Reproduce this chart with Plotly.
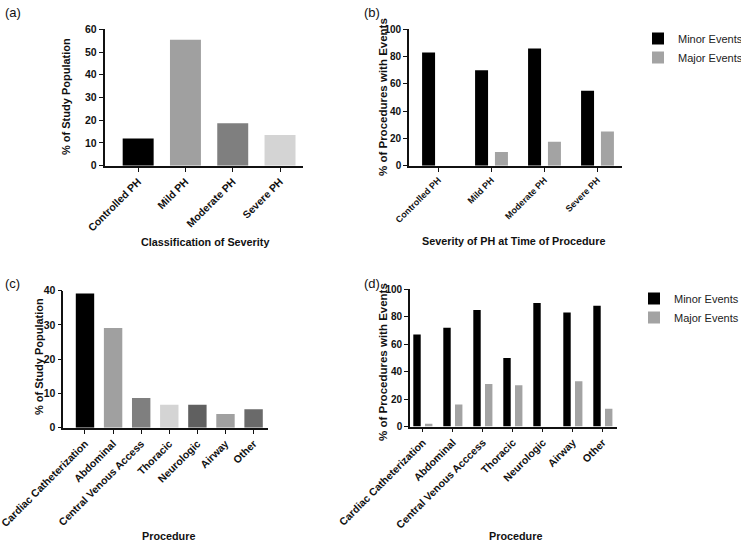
import plotly.graph_objects as go

W, H = 741, 546

# ---------------- data ----------------
sev_categories = ["Controlled PH", "Mild PH", "Moderate PH", "Severe PH"]
sev_population = [12, 55.4, 18.7, 13.5]
sev_colors = ["#000000", "#a0a0a0", "#7f7f7f", "#d4d4d4"]

sev_minor = [83, 70, 86, 55]
sev_major = [0, 10, 17.5, 25]

proc_categories = ["Cardiac Catheterization", "Abdominal", "Central Venous Access",
                   "Thoracic", "Neurologic", "Airway", "Other"]
proc_population = [39.2, 29.1, 8.7, 6.7, 6.7, 4.0, 5.4]
proc_colors = ["#000000", "#a0a0a0", "#7f7f7f", "#d4d4d4", "#606060", "#a0a0a0", "#6a6a6a"]

proc_categories_d = ["Cardiac Catheterization", "Abdominal", "Central Venous Acccess",
                     "Thoracic", "Neurologic", "Airway", "Other"]
proc_minor = [67, 72, 85, 50, 90, 83, 88]
proc_major = [2, 16, 31, 30, 0, 33, 13]

series_names = ["Minor Events", "Major Events"]
series_colors = ["#000000", "#a3a3a3"]

FONT = "Liberation Sans, Arial, sans-serif"
INK = "#111111"


def px_x(p):
    return p / W


def px_y(p):
    return 1 - p / H


fig = go.Figure()

# (a)
fig.add_trace(go.Bar(x=sev_categories, y=sev_population, marker=dict(color=sev_colors, line=dict(width=0)),
                     width=0.655, xaxis="x", yaxis="y", showlegend=False))
# (b)
fig.add_trace(go.Bar(x=sev_categories, y=sev_minor, name=series_names[0],
                     marker=dict(color=series_colors[0], line=dict(width=0)),
                     width=0.245, offset=-0.31, xaxis="x2", yaxis="y2", legend="legend"))
fig.add_trace(go.Bar(x=sev_categories, y=sev_major, name=series_names[1],
                     marker=dict(color=series_colors[1], line=dict(width=0)),
                     width=0.245, offset=0.065, xaxis="x2", yaxis="y2", legend="legend"))
# (c)
fig.add_trace(go.Bar(x=proc_categories, y=proc_population, marker=dict(color=proc_colors, line=dict(width=0)),
                     width=0.655, xaxis="x3", yaxis="y3", showlegend=False))
# (d)
fig.add_trace(go.Bar(x=proc_categories_d, y=proc_minor, name=series_names[0],
                     marker=dict(color=series_colors[0], line=dict(width=0)),
                     width=0.247, offset=-0.317, xaxis="x4", yaxis="y4", legend="legend2"))
fig.add_trace(go.Bar(x=proc_categories_d, y=proc_major, name=series_names[1],
                     marker=dict(color=series_colors[1], line=dict(width=0)),
                     width=0.247, offset=0.073, xaxis="x4", yaxis="y4", legend="legend2"))


def tickfont(size):
    return dict(family=FONT, size=size, color=INK, weight="bold")


def xax(dom, rng, anchor, fsize=10.5):
    return dict(domain=[px_x(dom[0]), px_x(dom[1])], range=rng, anchor=anchor,
                type="category", showline=True, linecolor=INK, linewidth=1.6,
                ticks="outside", ticklen=4, tickwidth=1.4, tickcolor=INK,
                tickangle=-45, tickfont=tickfont(fsize), showgrid=False, zeroline=False,
                fixedrange=True, automargin=False)


def yax(dom, rng, dtick, anchor, fsize=10.5):
    return dict(domain=[px_y(dom[1]), px_y(dom[0])], range=rng, dtick=dtick, anchor=anchor,
                showline=True, linecolor=INK, linewidth=1.6,
                ticks="outside", ticklen=4, tickwidth=1.4, tickcolor=INK,
                tickfont=tickfont(fsize), showgrid=False, zeroline=False, fixedrange=True,
                automargin=False)


layout = dict(
    width=W, height=H,
    margin=dict(l=0, r=0, t=0, b=0, pad=0, autoexpand=False),
    paper_bgcolor="white", plot_bgcolor="white",
    barmode="overlay",
    font=dict(family=FONT, color=INK),
    xaxis=xax((104.5, 303), [-0.712, 3.486], "y"),
    yaxis=yax((29.3, 165.7), [0, 60], 10, "x"),
    xaxis2=xax((409, 621.5), [-0.557, 3.453], "y2", fsize=9),
    yaxis2=yax((29.3, 165.7), [0, 100], 20, "x2", fsize=10),
    xaxis3=xax((63.3, 268), [-0.772, 6.513], "y3"),
    yaxis3=yax((290.7, 427.7), [0, 40], 10, "x3"),
    xaxis4=xax((410, 617.3), [-0.427, 6.483], "y4"),
    yaxis4=yax((289.3, 426.5), [0, 100], 20, "x4", fsize=10),
    legend=dict(x=px_x(638), y=px_y(24), xanchor="left", yanchor="top",
                font=dict(family=FONT, size=11, color="#222222"), bgcolor="rgba(0,0,0,0)",
                tracegroupgap=0),
    legend2=dict(x=px_x(634), y=px_y(284), xanchor="left", yanchor="top",
                 font=dict(family=FONT, size=11, color="#222222"), bgcolor="rgba(0,0,0,0)",
                 tracegroupgap=0),
)
fig.update_layout(**layout)

titlefont = dict(family=FONT, size=10.8, color=INK, weight="bold")
ytitle_s = dict(family=FONT, size=11, color=INK, weight="bold")
ytitle_l = dict(family=FONT, size=11.5, color=INK, weight="bold")
letter = dict(family=FONT, size=13, color=INK)
annots = [
    # panel letters
    dict(text="(a)", x=px_x(3), y=px_y(3), xanchor="left", yanchor="top", font=letter),
    dict(text="(b)", x=px_x(362), y=px_y(3), xanchor="left", yanchor="top", font=letter),
    dict(text="(c)", x=px_x(3), y=px_y(274), xanchor="left", yanchor="top", font=letter),
    dict(text="(d)", x=px_x(362), y=px_y(274), xanchor="left", yanchor="top", font=letter),
    # x titles
    dict(text="Classification of Severity", x=px_x(205), y=px_y(242), xanchor="center", yanchor="middle",
         font=titlefont),
    dict(text="Severity of PH at Time of Procedure", x=px_x(513), y=px_y(241), xanchor="center",
         yanchor="middle", font=titlefont),
    dict(text="Procedure", x=px_x(168), y=px_y(536), xanchor="center", yanchor="middle", font=titlefont),
    dict(text="Procedure", x=px_x(515), y=px_y(536), xanchor="center", yanchor="middle", font=titlefont),
    # y titles
    dict(text="% of Study Population", x=px_x(66), y=px_y(97), xanchor="center", yanchor="middle",
         textangle=-90, font=ytitle_s),
    dict(text="% of Procedures with Events", x=px_x(383), y=px_y(97), xanchor="center", yanchor="middle",
         textangle=-90, font=ytitle_l),
    dict(text="% of Study Population", x=px_x(39), y=px_y(357), xanchor="center", yanchor="middle",
         textangle=-90, font=ytitle_s),
    dict(text="% of Procedures with Events", x=px_x(383), y=px_y(362), xanchor="center", yanchor="middle",
         textangle=-90, font=ytitle_l),
]
for a in annots:
    a.update(xref="paper", yref="paper", showarrow=False)
fig.update_layout(annotations=annots)

fig.write_html("out.html", config={"displayModeBar": False},
               post_script="document.body.style.margin='0px';")
